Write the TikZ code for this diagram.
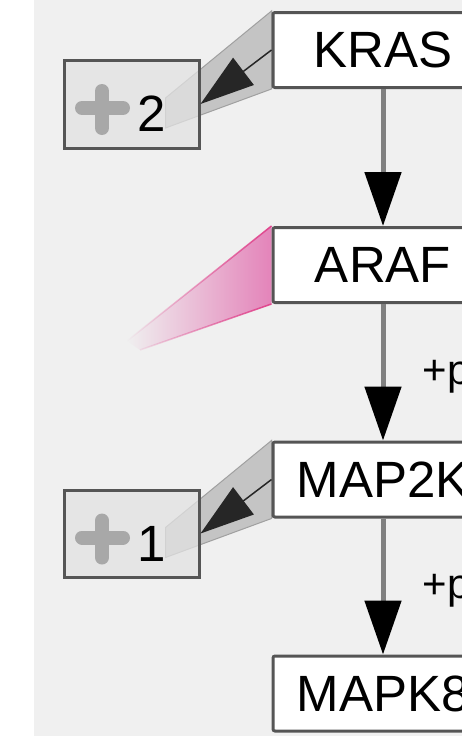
\documentclass[tikz,border=0pt]{standalone}
\usepackage{fontspec}
\setmainfont{Liberation Sans}
\usetikzlibrary{arrows.meta,calc,fadings}
\definecolor{canvas}{HTML}{F0F0F0}
\definecolor{boxline}{HTML}{555555}
\definecolor{groupfill}{HTML}{E2E2E2}
\definecolor{plusgray}{HTML}{A8A8A8}
\definecolor{linkgray}{HTML}{808080}
\definecolor{bandgray}{HTML}{C4C4C4}
\definecolor{bandedge}{HTML}{A0A0A0}
\definecolor{linkpink}{HTML}{E484BA}
\definecolor{pinkedge}{HTML}{E0448C}
\pgfdeclarelayer{bg}
\pgfsetlayers{bg,main}
\begin{document}
\begin{tikzpicture}[x=1pt,y=-1pt,
  gene/.style={draw=boxline,line width=3pt,fill=white,rounded corners=2pt,minimum width=220pt,minimum height=75pt,inner sep=0pt,font=\fontsize{51}{51}\selectfont},
  group/.style={draw=boxline,line width=3pt,fill=groupfill,fill opacity=0.75,minimum width=135pt,minimum height=88pt,inner sep=0pt},
  digit/.style={font=\fontsize{51}{51}\selectfont,inner sep=0pt},
  plusmark/.style={draw=plusgray,line width=14pt,line cap=round},
  act/.style={draw=linkgray,line width=5pt,-{Triangle[length=54pt,width=36pt,color=black]}},
  memberof/.style={draw=black!85,line width=1.5pt,-{Triangle[length=54pt,width=34pt]}},
  plabel/.style={font=\fontsize{42}{42}\selectfont,right,xshift=34pt,yshift=-4pt},
  band/.style={fill=bandgray,draw=bandedge,line width=1pt}]
  \useasboundingbox (0,0) rectangle (462,736);
  \clip (0,0) rectangle (462,736);

  \node[gene] (kras) at (383,50) {KRAS};
  \node[gene] (araf) at (383,265) {ARAF};
  \node[gene] (map2k) at (383,479.5) {MAP2K};
  \node[gene] (mapk8) at (383,693.5) {MAPK8};

  \node[group] (grp2) at (131.5,104) {};
  \node[group,minimum height=87pt] (grp1) at (131.5,533.5) {};
  \draw[plusmark] ($(grp2)+(-49.5,4)$) -- ++(41,0) ($(grp2)+(-29.5,-13)$) -- ++(0,37);
  \draw[plusmark] ($(grp1)+(-49.5,4)$) -- ++(41,0) ($(grp1)+(-29.5,-13)$) -- ++(0,37);
  \node[digit] (n2) at ($(grp2)+(20,10)$) {2};
  \node[digit] (n1) at ($(grp1)+(20,10)$) {1};

  \coordinate (fadeA) at (127,341);
  \coordinate (fadeB) at (140,350);

  \begin{pgfonlayer}{bg}
    \fill[white] (0,0) rectangle (462,736);
    \fill[canvas] (34,0) rectangle (462,736);
    \filldraw[band] (kras.north west) -- (kras.south west) -- ($(grp2)+(34,24)$) -- ($(grp2)+(34,-6)$) -- cycle;
    \filldraw[band] (map2k.north west) -- (map2k.south west) -- ($(grp1)+(34,24)$) -- ($(grp1)+(34,-6)$) -- cycle;
    \fill[linkpink,path fading=west] (araf.north west) -- (araf.south west) -- (fadeB) -- (fadeA) -- cycle;
    \draw[pinkedge,line width=1.5pt,path fading=west] (araf.north west) -- (fadeA) (araf.south west) -- (fadeB);
  \end{pgfonlayer}

  \draw[memberof] (kras.west) -- (grp2.east);
  \draw[memberof] (map2k.west) -- (grp1.east);
  \draw[act] (kras) -- (araf);
  \draw[act] (araf) -- node[plabel] (p1) {+p} (map2k);
  \draw[act] (map2k) -- node[plabel] (p2) {+p} (mapk8);
\end{tikzpicture}
\end{document}
